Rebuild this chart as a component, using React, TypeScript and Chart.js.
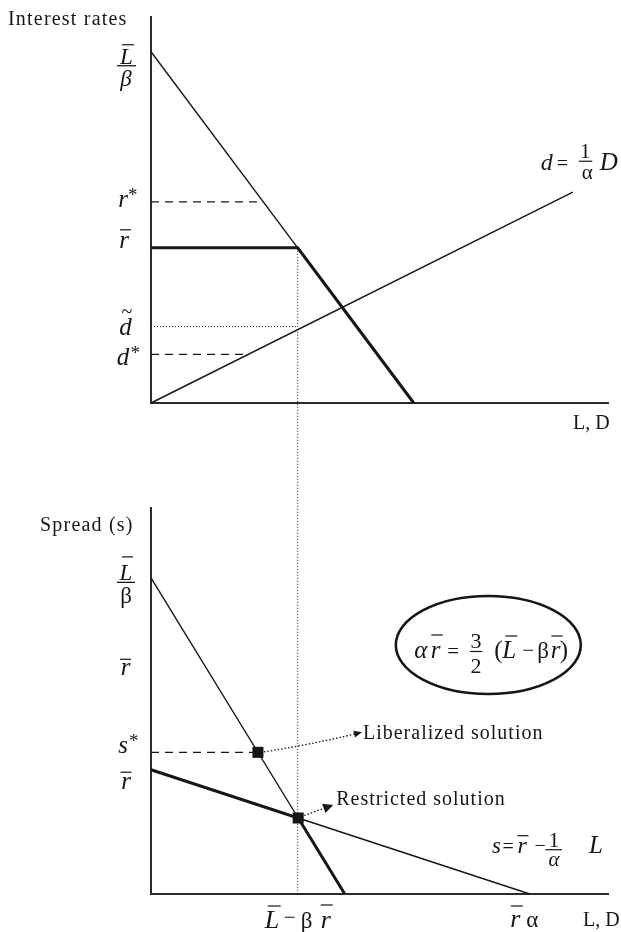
import { useEffect, useRef } from "react";
import { Chart, registerables } from "chart.js";

Chart.register(...registerables);

const WIDTH = 621;
const HEIGHT = 932;
const INK = "#161616";
const AXIS = "#2b2b2b";
const SERIF = '"Liberation Serif", "Times New Roman", Times, serif';

const QTY_MAX = 100;
const RATE_MAX = 100;

// Upper panel: loan demand r = (L̄ − L)/β and deposit supply d = D/α
const loanDemandX = [0, 57.5];
const loanDemandY = [91, 0];
const depositX = [0, 92.3];
const depositY = [0, 54.6];
const rateCeiling = 40.2; // r̄
const rateStar = 52.1; // r*
const depositTilde = 19.8; // d̃
const depositStar = 12.6; // d*

// Lower panel: spread schedules
const spreadDemandX = [0, 42.4];
const spreadDemandY = [81.9, 0];
const spreadSupplyX = [0, 82.9];
const spreadSupplyY = [32.2, 0];
const spreadStar = 36.7; // s*
const spreadRateMark = 58.6; // r̄ marked on the spread axis

type Pt = { x: number; y: number };

const pts = (xs: number[], ys: number[]): Pt[] => xs.map((x, i) => ({ x, y: ys[i] }));
const xAtY = (xs: number[], ys: number[], y: number) =>
  xs[0] + ((y - ys[0]) / (ys[1] - ys[0])) * (xs[1] - xs[0]);

function crossing(ax: number[], ay: number[], bx: number[], by: number[]): Pt {
  const sa = (ay[1] - ay[0]) / (ax[1] - ax[0]);
  const sb = (by[1] - by[0]) / (bx[1] - bx[0]);
  const ia = ay[0] - sa * ax[0];
  const ib = by[0] - sb * bx[0];
  const x = (ib - ia) / (sa - sb);
  return { x, y: ia + sa * x };
}

const xStar = xAtY(loanDemandX, loanDemandY, rateCeiling); // L̄ − βr̄
const restricted = crossing(spreadDemandX, spreadDemandY, spreadSupplyX, spreadSupplyY);
const liberalized: Pt = { x: xAtY(spreadDemandX, spreadDemandY, spreadStar), y: spreadStar };

const TOP_PANEL = { left: 151, top: 17, right: 608, bottom: 403 };
const BOTTOM_PANEL = { left: 151, top: 508, right: 608, bottom: 894 };

// ---------- drawing helpers ----------
function put(
  ctx: CanvasRenderingContext2D,
  s: string,
  x: number,
  y: number,
  size: number,
  italic = false,
  align: CanvasTextAlign = "left",
  spacing = 0
) {
  ctx.save();
  ctx.font = `${italic ? "italic " : ""}${size}px ${SERIF}`;
  ctx.textAlign = align;
  ctx.textBaseline = "alphabetic";
  (ctx as any).letterSpacing = `${spacing}px`;
  ctx.fillStyle = INK;
  ctx.fillText(s, x, y);
  ctx.restore();
}

function rule(ctx: CanvasRenderingContext2D, x1: number, x2: number, y: number, w = 1.2) {
  ctx.save();
  ctx.strokeStyle = INK;
  ctx.lineWidth = w;
  ctx.beginPath();
  ctx.moveTo(x1, y);
  ctx.lineTo(x2, y);
  ctx.stroke();
  ctx.restore();
}

function dottedArrow(
  ctx: CanvasRenderingContext2D,
  from: Pt,
  ctrl: Pt | null,
  tip: Pt,
  len: number,
  half: number
) {
  const ref = ctrl ?? from;
  const ang = Math.atan2(tip.y - ref.y, tip.x - ref.x);
  const cx = Math.cos(ang);
  const cy = Math.sin(ang);
  const end = { x: tip.x - len * cx, y: tip.y - len * cy };
  ctx.save();
  ctx.strokeStyle = INK;
  ctx.lineWidth = 1.3;
  ctx.setLineDash([1.5, 2]);
  ctx.beginPath();
  ctx.moveTo(from.x, from.y);
  if (ctrl) ctx.quadraticCurveTo(ctrl.x, ctrl.y, end.x, end.y);
  else ctx.lineTo(end.x, end.y);
  ctx.stroke();
  ctx.setLineDash([]);
  ctx.fillStyle = INK;
  ctx.beginPath();
  ctx.moveTo(tip.x, tip.y);
  ctx.lineTo(end.x - half * cy, end.y + half * cx);
  ctx.lineTo(end.x + half * cy, end.y - half * cx);
  ctx.closePath();
  ctx.fill();
  ctx.restore();
}

// ---------- datasets ----------
const line = (data: Pt[], width: number, dash: number[] = []) => ({
  data,
  borderColor: INK,
  borderWidth: width,
  borderDash: dash,
  borderJoinStyle: "miter" as const,
  pointRadius: 0,
  fill: false,
  tension: 0,
  clip: false as const,
});

const scale = (max: number) => ({
  type: "linear" as const,
  min: 0,
  max,
  grid: { display: false, drawTicks: false },
  ticks: { display: false },
  border: { display: true, color: AXIS, width: 2 },
});

function options(panel: typeof TOP_PANEL) {
  return {
    responsive: false,
    animation: false as const,
    events: [] as any[],
    layout: {
      padding: {
        left: panel.left,
        top: panel.top,
        right: WIDTH - panel.right,
        bottom: HEIGHT - panel.bottom,
      },
    },
    plugins: { legend: { display: false }, tooltip: { enabled: false } },
    scales: { x: scale(QTY_MAX), y: scale(RATE_MAX) },
  };
}

// ---------- annotations: upper panel ----------
const upperLabels = {
  id: "upperLabels",
  afterDraw(chart: Chart) {
    const { ctx, chartArea: a, scales } = chart;
    const px = (v: number) => scales.x.getPixelForValue(v);
    const py = (v: number) => scales.y.getPixelForValue(v);
    const ax = a.left;

    put(ctx, "Interest rates", 8, 25, 20, false, "left", 1.2);

    // L̄ / β
    const yL = py(loanDemandY[0]);
    rule(ctx, ax - 34, ax - 15, yL + 14, 1.3);
    put(ctx, "L", ax - 24.5, yL + 12, 23, true, "center");
    rule(ctx, ax - 29, ax - 17, yL - 7);
    put(ctx, "β", ax - 25, yL + 34, 23, true, "center");

    // r*
    const yRs = py(rateStar);
    put(ctx, "r", ax - 28, yRs + 5, 25, true, "center");
    put(ctx, "*", ax - 23, yRs - 1, 19);

    // r̄
    const yRb = py(rateCeiling);
    put(ctx, "r", ax - 27, yRb, 25, true, "center");
    rule(ctx, ax - 31, ax - 20, yRb - 18);

    // d̃
    const yDt = py(depositTilde);
    put(ctx, "d", ax - 25.5, yDt + 8.5, 25, true, "center");
    put(ctx, "~", ax - 24, yDt - 9, 20, false, "center");

    // d*
    const yDs = py(depositStar);
    put(ctx, "d", ax - 28, yDs + 11, 25, true, "center");
    put(ctx, "*", ax - 20.5, yDs + 5, 19);

    // d = (1/α) D
    const ex = px(depositX[1]);
    const ey = py(depositY[1]);
    put(ctx, "d", ex - 32, ey - 22, 24, true);
    put(ctx, "=", ex - 16, ey - 22, 20);
    put(ctx, "1", ex + 12.5, ey - 34, 21, false, "center");
    rule(ctx, ex + 6, ex + 19.5, ey - 31);
    put(ctx, "α", ex + 14.5, ey - 13, 21, false, "center");
    put(ctx, "D", ex + 27, ey - 22, 25, true);

    put(ctx, "L, D", a.right - 35, a.bottom + 26, 20);
  },
};

// ---------- annotations: lower panel ----------
function lowerLabels(upper: Chart) {
  return {
    id: "lowerLabels",
    afterDraw(chart: Chart) {
      const { ctx, chartArea: a, scales } = chart;
      const px = (v: number) => scales.x.getPixelForValue(v);
      const py = (v: number) => scales.y.getPixelForValue(v);
      const ax = a.left;

      // L̄ − βr̄ guide running through both panels
      const gx = px(xStar);
      ctx.save();
      ctx.strokeStyle = INK;
      ctx.lineWidth = 1;
      ctx.setLineDash([1, 2]);
      ctx.beginPath();
      ctx.moveTo(gx, upper.scales.y.getPixelForValue(rateCeiling));
      ctx.lineTo(gx, py(0));
      ctx.stroke();
      ctx.restore();

      put(ctx, "Spread (s)", 40, a.top + 23, 20, false, "left", 1.2);

      // L̄ / β
      const yL = py(spreadDemandY[0]);
      rule(ctx, ax - 29, ax - 18, yL - 21);
      put(ctx, "L", ax - 25, yL + 2, 23, true, "center");
      rule(ctx, ax - 34, ax - 16, yL + 4.5, 1.3);
      put(ctx, "β", ax - 25, yL + 25, 23, false, "center");

      // r̄ (upper mark)
      const yU = py(spreadRateMark);
      put(ctx, "r", ax - 25.5, yU + 7.5, 25, true, "center");
      rule(ctx, ax - 31, ax - 20, yU - 8.5);

      // s*
      const yS = py(spreadStar);
      put(ctx, "s", ax - 28, yS + 1, 25, true, "center");
      put(ctx, "*", ax - 22, yS - 5, 19);

      // r̄ (spread-schedule intercept)
      const yR0 = py(spreadSupplyY[0]);
      put(ctx, "r", ax - 25, yR0 + 19, 25, true, "center");
      rule(ctx, ax - 30.5, ax - 19.5, yR0 + 2.5);

      // x-axis marks
      const by = a.bottom;
      put(ctx, "L", gx - 33, by + 34, 26, true);
      rule(ctx, gx - 30, gx - 17, by + 12);
      put(ctx, "−", gx - 14, by + 30, 21);
      put(ctx, "β", gx + 3, by + 34, 23);
      put(ctx, "r", gx + 23, by + 34, 26, true);
      rule(ctx, gx + 23, gx + 35, by + 11);

      const xi = px(spreadSupplyX[1]);
      put(ctx, "r", xi - 19.5, by + 32.5, 26, true);
      rule(ctx, xi - 19, xi - 7, by + 12);
      put(ctx, "α", xi - 3.5, by + 32.5, 23);

      put(ctx, "L, D", a.right - 25, by + 32, 20);

      // Equilibrium condition in an ellipse
      const ex = a.left + 337.3;
      const ey = a.top + 137;
      ctx.save();
      ctx.strokeStyle = INK;
      ctx.lineWidth = 2.6;
      ctx.beginPath();
      ctx.ellipse(ex, ey, 92.5, 49, 0, 0, Math.PI * 2);
      ctx.stroke();
      ctx.restore();
      const eb = ey + 13;
      put(ctx, "α", ex - 74, eb, 25, true);
      put(ctx, "r", ex - 57.5, eb, 25, true);
      rule(ctx, ex - 57, ex - 45.5, ey - 10);
      put(ctx, "=", ex - 41, eb, 21);
      put(ctx, "3", ex - 12.3, ey + 3, 22, false, "center");
      rule(ctx, ex - 18.5, ex - 6, ey + 6.5);
      put(ctx, "2", ex - 12.3, ey + 28, 22, false, "center");
      put(ctx, "(", ex + 6, eb, 25);
      put(ctx, "L", ex + 14, eb, 25, true);
      rule(ctx, ex + 17, ex + 29, ey - 9);
      put(ctx, "−", ex + 34, eb - 1, 21);
      put(ctx, "β", ex + 49, eb, 23);
      put(ctx, "r", ex + 62.5, eb, 25, true);
      rule(ctx, ex + 63, ex + 74.5, ey - 9);
      put(ctx, ")", ex + 71.5, eb, 25);

      // s = r̄ − (1/α) L
      const sx = a.right - 116;
      const sy = by - 41.3;
      put(ctx, "s", sx, sy, 23, true);
      put(ctx, "=", sx + 10.5, sy, 20);
      put(ctx, "r", sx + 25.5, sy, 24, true);
      rule(ctx, sx + 25.5, sx + 36.5, sy - 17);
      put(ctx, "−", sx + 42.5, sy - 1, 20);
      put(ctx, "1", sx + 62, sy - 6, 21, false, "center");
      rule(ctx, sx + 53.5, sx + 70, sy - 3);
      put(ctx, "α", sx + 62, sy + 13, 21, true, "center");
      put(ctx, "L", sx + 97, sy, 25, true);

      // Solution call-outs
      const lp = { x: px(liberalized.x), y: py(liberalized.y) };
      const lTip = { x: lp.x + 104, y: lp.y - 20 };
      const lFrom = { x: lp.x + 6, y: lp.y - 0.5 };
      const lCtrl = { x: (lFrom.x + lTip.x) / 2 - 5, y: (lFrom.y + lTip.y) / 2 + 3 };
      dottedArrow(ctx, lFrom, lCtrl, lTip, 8, 3.5);
      put(ctx, "Liberalized solution", lTip.x + 1, lTip.y + 6.5, 20, false, "left", 1);

      const rp = { x: px(restricted.x), y: py(restricted.y) };
      const rTip = { x: rp.x + 35, y: rp.y - 13 };
      dottedArrow(ctx, { x: rp.x + 6, y: rp.y - 2.5 }, null, rTip, 10, 5);
      put(ctx, "Restricted solution", rTip.x + 3, rp.y - 12.5, 20, false, "left", 1);
    },
  };
}

export default function App() {
  const topRef = useRef<HTMLCanvasElement>(null);
  const bottomRef = useRef<HTMLCanvasElement>(null);

  useEffect(() => {
    const upper = new Chart(topRef.current!, {
      type: "line",
      data: {
        datasets: [
          // r̄ ceiling continuing down the effective demand schedule
          line([{ x: 0, y: rateCeiling }, { x: xStar, y: rateCeiling }, { x: loanDemandX[1], y: loanDemandY[1] }], 3),
          line([{ x: loanDemandX[0], y: loanDemandY[0] }, { x: xStar, y: rateCeiling }], 1.4),
          line(pts(depositX, depositY), 1.4),
          line([{ x: 0, y: rateStar }, { x: xAtY(loanDemandX, loanDemandY, rateStar), y: rateStar }], 1.3, [8, 6]),
          line([{ x: 0, y: depositStar }, { x: xAtY(depositX, depositY, depositStar), y: depositStar }], 1.3, [8, 6]),
          line([{ x: 0, y: depositTilde }, { x: xStar, y: depositTilde }], 1, [1, 2]),
        ],
      },
      options: options(TOP_PANEL) as any,
      plugins: [upperLabels],
    });

    const lower = new Chart(bottomRef.current!, {
      type: "line",
      data: {
        datasets: [
          {
            data: [liberalized, restricted],
            showLine: false,
            pointStyle: "rect",
            pointRadius: 7.8,
            pointBackgroundColor: INK,
            pointBorderWidth: 0,
            clip: false,
          } as any,
          line([{ x: spreadSupplyX[0], y: spreadSupplyY[0] }, restricted, { x: spreadDemandX[1], y: spreadDemandY[1] }], 3),
          line([{ x: spreadDemandX[0], y: spreadDemandY[0] }, restricted], 1.4),
          line([restricted, { x: spreadSupplyX[1], y: spreadSupplyY[1] }], 1.4),
          line([{ x: 0, y: spreadStar }, liberalized], 1.3, [8, 6]),
        ],
      },
      options: options(BOTTOM_PANEL) as any,
      plugins: [lowerLabels(upper)],
    });

    return () => {
      lower.destroy();
      upper.destroy();
    };
  }, []);

  const style = { position: "absolute" as const, left: 0, top: 0 };
  return (
    <div>
      <canvas ref={topRef} width={WIDTH} height={HEIGHT} style={style} />
      <canvas ref={bottomRef} width={WIDTH} height={HEIGHT} style={style} />
    </div>
  );
}
